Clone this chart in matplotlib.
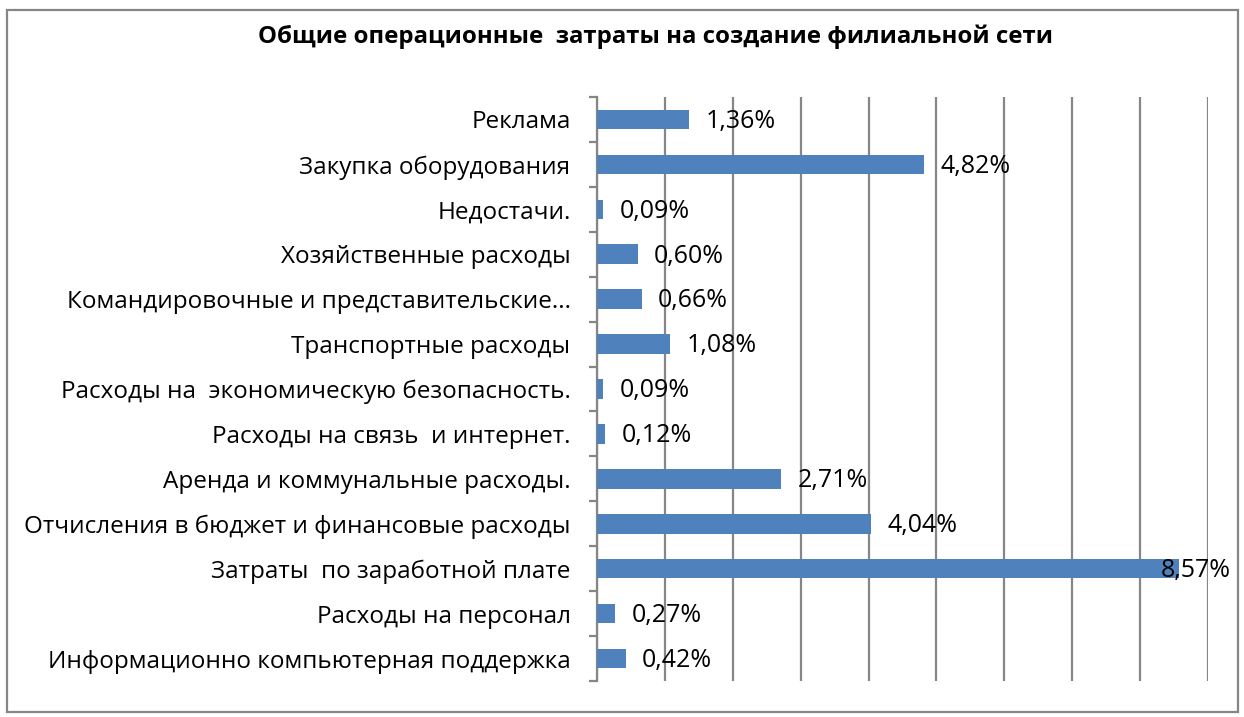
import numpy as np
import matplotlib.pyplot as plt
from matplotlib.patches import Rectangle

plt.rcParams['font.family'] = ['Open Sans', 'DejaVu Sans']

categories = [
    "Реклама",
    "Закупка оборудования",
    "Недостачи.",
    "Хозяйственные расходы",
    "Командировочные и представительские...",
    "Транспортные расходы",
    "Расходы на  экономическую безопасность.",
    "Расходы на связь  и интернет.",
    "Аренда и коммунальные расходы.",
    "Отчисления в бюджет и финансовые расходы",
    "Затраты  по заработной плате",
    "Расходы на персонал",
    "Информационно компьютерная поддержка",
]
values = [1.36, 4.82, 0.09, 0.60, 0.66, 1.08, 0.09, 0.12, 2.71, 4.04, 8.57, 0.27, 0.42]
value_labels = ["1,36%", "4,82%", "0,09%", "0,60%", "0,66%", "1,08%", "0,09%",
                "0,12%", "2,71%", "4,04%", "8,57%", "0,27%", "0,42%"]

fig = plt.figure(figsize=(12.44, 7.17), dpi=100)
ax = fig.add_axes([597/1244, 1 - 681/717, (1208 - 597)/1244, (681 - 97)/717])

y = np.arange(len(categories))
ax.barh(y, values, height=0.435, color='#4F81BD', zorder=3)
ax.set_ylim(len(categories) - 0.5, -0.5)
ax.set_xlim(0, 9)

# vertical gridlines every 1%
ax.set_xticks(np.arange(0, 10, 1))
ax.xaxis.grid(True, color='#868686', linewidth=1.6, zorder=0)
ax.tick_params(axis='x', length=0, labelbottom=False)

# category ticks sit on the boundaries
ax.set_yticks(np.arange(len(categories) + 1) - 0.5, minor=False)
ax.set_yticklabels([])
ax.tick_params(axis='y', which='major', length=6, width=1.6, color='#868686', direction='out')
ax.set_yticks(y, minor=True)
ax.set_yticklabels(categories, minor=True, fontsize=17.5)
ax.tick_params(axis='y', which='minor', length=0, pad=19)

for s in ['top', 'right', 'bottom']:
    ax.spines[s].set_visible(False)
ax.spines['left'].set_color('#868686')
ax.spines['left'].set_linewidth(1.6)

for i, (v, lab) in enumerate(zip(values, value_labels)):
    x = min(v + 0.24, 8.3)
    ax.text(x, i + 0.04, lab, va='center', ha='left', fontsize=18, zorder=4)

fig.text(655/1244, 1 - 37/717, "Общие операционные  затраты на создание филиальной сети",
         ha='center', va='center', fontsize=17.3, fontweight='bold')

fig.patches.append(Rectangle((7/1244, 1 - 712/717), (1238 - 7)/1244, (712 - 10)/717,
                             transform=fig.transFigure, fill=False,
                             edgecolor='#868686', linewidth=1.6))

fig.savefig('out.png', dpi=100)
